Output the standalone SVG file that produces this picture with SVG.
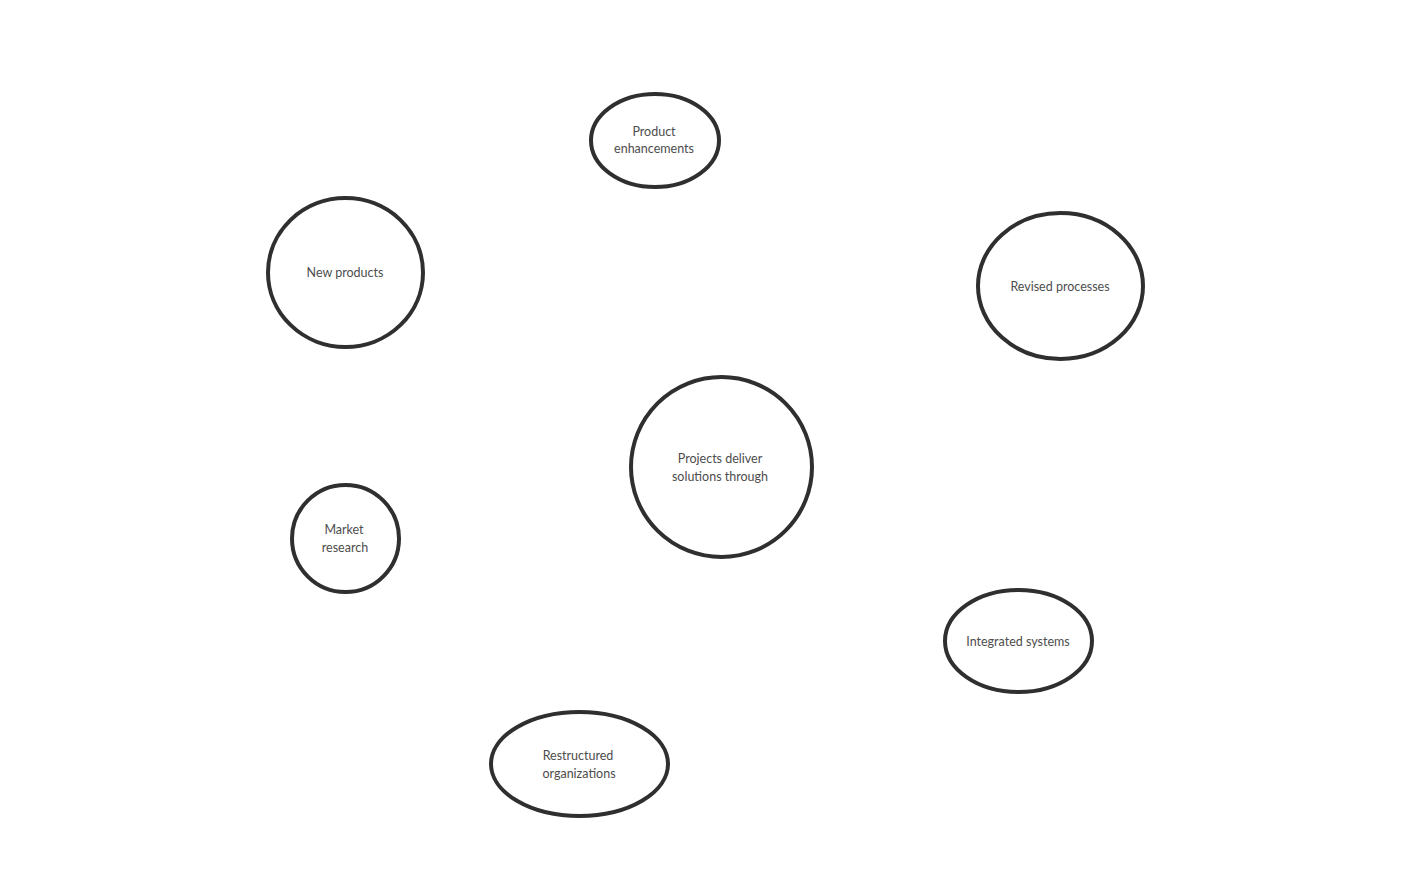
<svg xmlns="http://www.w3.org/2000/svg" width="1402" height="880" viewBox="0 0 1402 880">
<style>
.n{fill:#fff;stroke:#2f2f2f;stroke-width:4}
.t{font-family:Lato,"Noto Sans","Liberation Sans",sans-serif;font-size:12.5px;fill:#4d4d4d;text-anchor:middle}
</style>
<rect width="1402" height="880" fill="#fff"/>
<g id="connectors"></g>
<g id="product-enhancements"><ellipse class="n" cx="655" cy="140.5" rx="64" ry="46.5"/><text class="t" x="654" y="136">Product</text><text class="t" x="654" y="153">enhancements</text></g>
<g id="new-products"><ellipse class="n" cx="345.5" cy="272.5" rx="77.5" ry="74.5"/><text class="t" x="345" y="277">New products</text></g>
<g id="revised-processes"><ellipse class="n" cx="1060.5" cy="286" rx="82.5" ry="73"/><text class="t" x="1060" y="291">Revised processes</text></g>
<g id="projects"><ellipse class="n" cx="721.5" cy="467" rx="90.5" ry="90"/><text class="t" x="720" y="463">Projects deliver</text><text class="t" x="720" y="481">solutions through</text></g>
<g id="market-research"><ellipse class="n" cx="345.5" cy="538.5" rx="53.5" ry="53.5"/><text class="t" x="344" y="534">Market</text><text class="t" x="345" y="552">research</text></g>
<g id="integrated-systems"><ellipse class="n" cx="1018.5" cy="641" rx="73.5" ry="51"/><text class="t" x="1018" y="646">Integrated systems</text></g>
<g id="restructured-organizations"><ellipse class="n" cx="579.5" cy="764" rx="88.5" ry="52"/><text class="t" x="578" y="760">Restructured</text><text class="t" x="579" y="778">organizations</text></g>
</svg>
